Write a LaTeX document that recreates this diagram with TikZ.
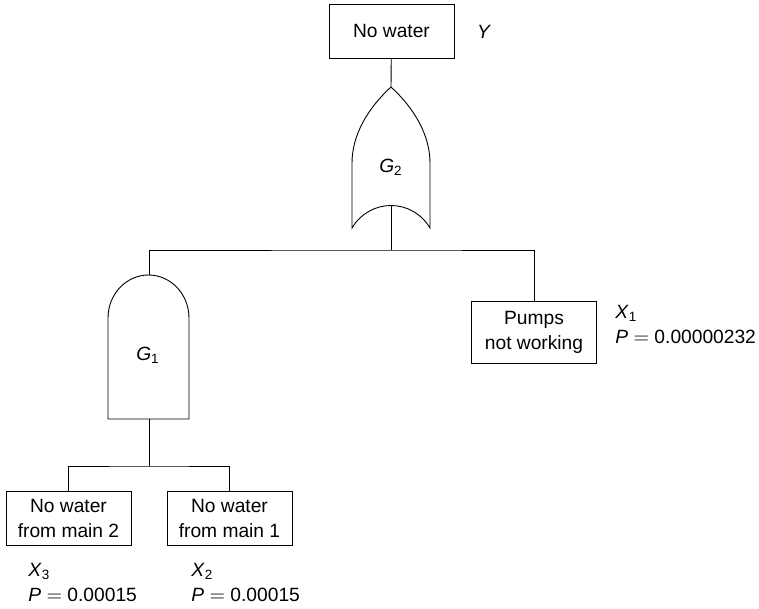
\documentclass[tikz,border=0pt]{standalone}
\usepackage{fontspec}
\setmainfont{Liberation Sans}
\usepackage{tikz}
\usetikzlibrary{calc}

\newcommand{\evt}[2]{\textit{#1}\textsubscript{#2}}

\begin{document}
\begin{tikzpicture}[x={(0.5pt,0)},y={(0,-0.5pt)},line width=0.45pt,
  font=\fontsize{9.6}{12.5}\selectfont,
  event/.style={draw,rectangle,align=center,inner sep=0pt,minimum width=62.5pt},
  prob/.style={anchor=north west,align=left,inner sep=0pt}]
\useasboundingbox (0,0) rectangle (759,609);

% top event
\node[event,minimum height=27pt] (top) at (391.5,31) {No water};
\node (Y) at (484,32) {\textit{Y}};

% OR gate G2
\coordinate (g2top) at (391,87);
\coordinate (g2bot) at (391,205);
\draw (g2top) .. controls (368,108) and (352,135) .. (352,163) -- (352,228)
  .. controls (370,198) and (412,198) .. (430,228) -- (430,163)
  .. controls (430,135) and (414,108) .. (g2top);
\node (G2) at (391,167) {\evt{G}{2}};

% AND gate G1
\coordinate (g1top) at (149,275);
\coordinate (g1bot) at (149,419);
\draw (108,318) arc[start angle=180,end angle=360,x radius=40.5,y radius=43]
  -- (189,419) -- (108,419) -- cycle;
\node (G1) at (148,355) {\evt{G}{1}};

% basic events
\node[event,minimum height=31pt] (pumps) at (534,332) {Pumps\\not working};
\node[event,minimum height=27pt] (main2) at (68.5,518) {No water\\from main 2};
\node[event,minimum height=27pt] (main1) at (229.5,518) {No water\\from main 1};

\node[prob] (X1) at (615,305) {\evt{X}{1}\\\textit{P} $=$ 0.00000232};
\node[prob] (X3) at (28,563) {\evt{X}{3}\\\textit{P} $=$ 0.00015};
\node[prob] (X2) at (191,563) {\evt{X}{2}\\\textit{P} $=$ 0.00015};

% connectors
\coordinate (bar2) at (391,250);
\coordinate (bar1) at (149,466);
\draw (top) -- (g2top);
\draw (g2bot) -- (bar2);
\draw (g1top) |- (bar2) -| (pumps.north);
\draw (g1bot) -- (bar1);
\draw (main2.north) |- (bar1) -| (main1.north);
\end{tikzpicture}
\end{document}
